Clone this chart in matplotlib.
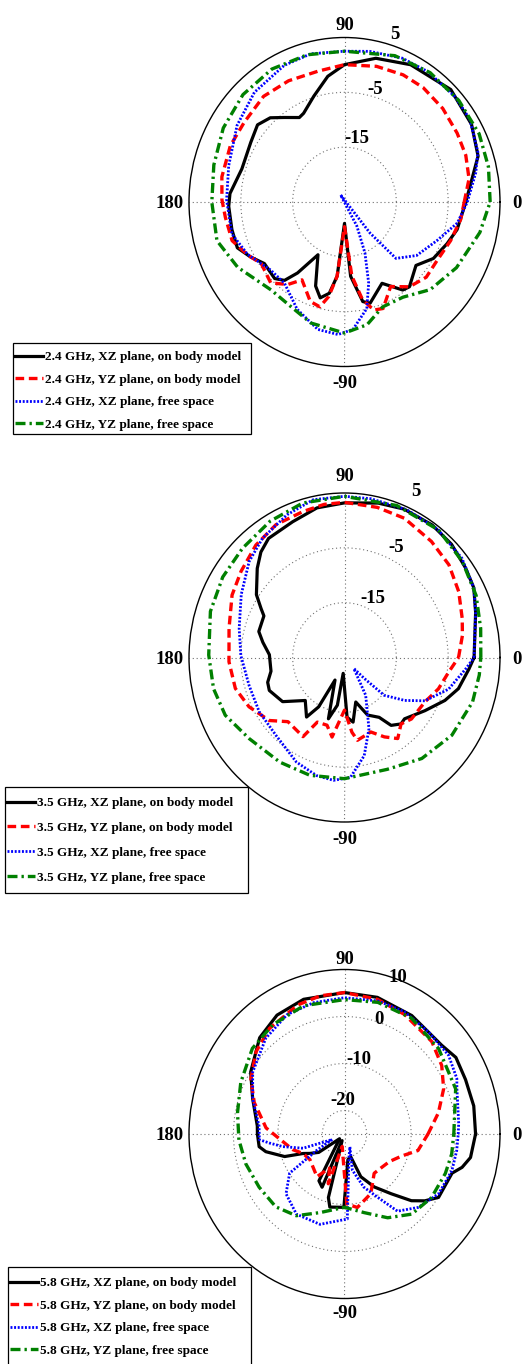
import numpy as np
import matplotlib
matplotlib.use('Agg')
import matplotlib.pyplot as plt
from matplotlib.patches import Rectangle

plt.rcParams['font.family'] = ['Liberation Serif', 'DejaVu Serif']
plt.rcParams['font.weight'] = 'bold'

# ---------------- data (angle in degrees, gain in dB) ----------------
# 2.4 GHz
a24_xz_body = [0, 18, 30, 45, 63, 77, 90, 98, 107, 116, 119.5, 127, 133, 140, 149, 163, 176, 182, 193, 202, 209, 216,
               226, 231, 235, 242, 250, 255, 260, 264, 270, 275, 281, 285, 296, 305, 309, 320, 329, 339, 347, 360]
g24_xz_body = [-1.6, 2.1, 3.3, 4.0, 3.1, 1.9, 0.05, -1.85, -4.8, -7.0, -7.3, -5.7, -4.0, -3.1, -3.9, -4.3, -2.85, -2.65,
               -2.7, -2.7, -4.3, -5.9, -5.6, -6.6, -9.2, -14.1, -8.7, -6.9, -8.1, -11.4, -21.1, -11.4, -6.5, -5.9, -8.5,
               -5.4, -5.1, -7.0, -5.0, -3.8, -2.7, -1.6]
a24_yz_body = [0, 10, 20, 30, 42, 54, 64, 76, 90, 102, 116, 129, 143, 155, 169, 179, 187, 198, 207.5, 215, 226, 234,
               240, 250, 256, 260, 264, 270, 276, 281, 286, 291, 300, 309, 319, 329, 341, 352, 360]
g24_yz_body = [-1.9, -0.6, -0.1, 0.1, 0.5, 0.8, 0.8, 0.5, 0.05, -0.6, -0.4, -0.2, -0.8, -0.7, -0.9, -1.35, -1.85, -2.2,
               -4.0, -5.4, -4.5, -6.4, -8.6, -5.7, -5.3, -7.5, -11.4, -20.5, -11.4, -6.9, -4.5, -4.2, -7.2, -5.1, -4.1,
               -4.2, -3.35, -2.35, -1.9]
a24_xz_free = [0, 12, 19.5, 32, 42, 56, 67, 80, 90, 103.5, 115, 131, 146, 163.5, 179, 195, 207, 221, 232, 245, 257.5,
               267, 274, 282.5, 287.5, 293, 298.5, 120, 311, 314, 325, 338.6, 350, 360]
g24_xz_free = [-1.3, 0.9, 2.3, 3.5, 3.7, 3.7, 3.5, 2.9, 2.5, 2.8, 2.5, 1.5, 0.0, -1.7, -2.25, -2.5, -4.0, -6.1, -6.2,
               -3.4, -1.2, -0.8, -1.7, -5.1, -9.5, -14.9, -20.0, -23.5, -17.5, -10.7, -8.0, -5.8, -2.9, -1.3]
a24_yz_free = [0, 13, 25.6, 40, 55, 70, 90, 105, 120, 135, 150, 165, 180, 196, 210, 228.5, 241.6, 253.6, 270, 281, 291,
               303, 316, 331, 348, 360]
g24_yz_free = [3.1, 3.5, 3.8, 3.8, 3.8, 3.4, 2.5, 2.8, 3.0, 2.7, 2.0, 1.1, 0.6, 0.6, -1.2, -3.6, -3.3, -2.0, -1.1, -2.2,
               -4.5, -4.3, -2.0, -0.3, 1.7, 3.1]

# 3.5 GHz
a35_xz_body = [0, 18, 27, 35, 45, 55, 67, 77, 90, 101, 112, 124, 130, 136, 146, 151, 154, 164, 170, 178, 190, 197,
               202.5, 214, 226, 236, 241, 246, 254.5, 261, 265, 272.6, 278, 285, 293, 301.5, 306, 312, 316, 328, 338,
               345.5, 355, 360]
g35_xz_body = [0.0, 1.6, 3.0, 3.5, 4.2, 4.5, 4.4, 3.9, 3.2, 2.8, 1.7, 1.2, 0.1, -1.6, -4.5, -6.6, -7.7, -7.8, -9.0,
               -10.5, -10.6, -9.5, -9.3, -10.6, -14.1, -11.9, -14.7, -20.5, -13.4, -16.2, -22.1, -14.1, -13.1, -16.6,
               -13.6, -12.2, -9.7, -8.7, -8.9, -6.7, -4.1, -2.3, -0.9, 0.0]
a35_yz_body = [0, 10, 17.4, 28.6, 40, 51.6, 65.5, 77, 90, 98, 106.7, 118.6, 129.8, 141.8, 152.3, 166.6, 182, 195, 206,
               218.4, 227, 241, 246, 254.7, 260.6, 270, 276, 279.4, 290.5, 298, 304.8, 312, 319, 332.4, 342.5, 352.6, 360]
g35_yz_body = [-3.0, -1.9, -1.2, 0.1, 1.3, 2.0, 2.9, 3.1, 3.3, 3.2, 2.8, 2.6, 1.7, 0.4, -0.5, -2.1, -2.7, -3.2, -4.5,
               -6.5, -9.0, -8.5, -12.1, -12.2, -10.3, -15.4, -11.3, -9.7, -10.5, -8.6, -7.0, -8.7, -7.9, -7.5, -6.0,
               -4.7, -3.0]
a35_xz_free = [0, 18, 27, 38.6, 52.5, 66, 80, 90, 101.8, 113, 126, 136.4, 150, 165.4, 179, 195.5, 211, 227, 244, 256,
               264.6, 273, 282, 290, 300.7, 312, 315, 318, 326, 333, 344, 355, 360]
g35_xz_free = [0.0, 1.6, 3.0, 4.0, 4.5, 4.5, 4.4, 4.4, 4.4, 3.3, 1.9, 0.4, -2.0, -4.0, -5.0, -5.9, -5.8, -5.6, -3.8,
               -2.8, -2.5, -3.1, -6.7, -11.2, -17.0, -22.3, -19.6, -14.7, -11.0, -7.6, -4.1, -1.5, 0.0]
a35_yz_free = [0, 11.4, 24, 37.6, 52, 70, 90, 106, 120, 134.7, 148, 162, 179, 192.7, 204.6, 218.8, 236.8, 252.7, 270,
               292, 309, 325.6, 341.8, 353, 360]
g35_yz_free = [1.3, 1.8, 2.8, 3.7, 4.5, 4.5, 4.4, 4.3, 3.7, 3.0, 2.7, 2.2, 1.2, 0.9, 0.3, -1.4, -2.2, -2.5, -2.9, -3.0,
               -1.3, 0.1, 1.0, 1.2, 1.3]

# 5.8 GHz
a58_xz_body = [0, 11.6, 23, 33, 40.8, 59, 75.7, 90, 107.8, 121, 133, 148, 160, 175, 180, 188, 192, 199.6, 204, 208,
               214, 222, 240, 246, 249, 255, 258, 269.5, 278, 286, 292, 300.7, 309.6, 316.7, 321.8, 327.5, 341, 345,
               350, 360]
g58_xz_body = [4.5, 4.7, 4.6, 4.9, 3.9, 4.4, 5.0, 5.1, 5.1, 4.5, 3.0, -0.1, -3.0, -5.3, -5.4, -5.6, -6.9, -10.7, -14.8,
               -16.2, -18.0, -23.5, -13.5, -12.6, -23.5, -11.0, -9.1, -9.4, -19.5, -20.0, -15.2, -11.9, -8.5, -4.3,
               -2.0, 0.1, 0.6, 2.4, 3.8, 4.5]
a58_yz_body = [0, 12, 23.3, 33.7, 45, 62, 75.5, 90, 100.5, 111, 127, 138.7, 151, 161.7, 175.8, 186.5, 196, 204, 215,
               235.7, 245, 251, 259, 272, 280.5, 295, 308.6, 320, 330, 340, 348, 360]
g58_yz_body = [-6.2, -3.4, -0.7, 1.3, 2.8, 3.8, 4.6, 5.1, 4.9, 4.4, 3.1, 1.5, -0.9, -3.6, -7.3, -11.0, -12.9, -14.8,
               -15.5, -14.0, -17.0, -13.8, -22.3, -10.1, -9.1, -11.0, -14.3, -14.0, -13.3, -11.3, -8.1, -6.2]
a58_xz_free = [0, 5, 21, 25, 35.6, 49, 62.6, 75, 90, 104, 117, 131, 147.5, 160, 175, 183.6, 186.5, 191, 198, 203, 209,
               214, 224, 237.6, 254, 272, 282, 294, 283, 291, 299, 306, 316.8, 329, 342, 352, 360]
g58_xz_free = [0.6, 0.8, 2.1, 2.9, 3.8, 3.8, 4.3, 4.3, 4.0, 3.8, 3.5, 2.0, -0.5, -3.0, -5.7, -5.8, -8.0, -10.9, -15.2,
               -22.0, -17.9, -10.1, -6.7, -4.8, -5.0, -6.9, -20.1, -22.0, -17.1, -12.9, -9.6, -4.7, -2.2, -0.3, 0.4,
               0.5, 0.6]
a58_yz_free = [0, 21, 40.6, 58.6, 75, 90, 108.6, 124.8, 138.7, 154.8, 169.4, 183, 196, 210.5, 225, 238, 251.8, 270,
               284.8, 298.6, 311.6, 325.4, 339.7, 350, 360]
g58_yz_free = [-0.4, 1.8, 2.9, 3.9, 4.0, 3.6, 3.8, 3.3, 2.6, 0.8, -0.5, -1.2, -1.9, -2.7, -3.1, -4.5, -7.4, -9.4, -7.7,
               -4.7, -2.2, -1.2, -0.8, -0.5, -0.4]

freqs = ['2.4', '3.5', '5.8']
series_labels = ['XZ plane, on body model', 'YZ plane, on body model', 'XZ plane, free space', 'YZ plane, free space']
theta_ticks = [0, 90, 180, 270]
theta_ticklabels = ['0', '90', '180', '-90']
rlims = [(-25, 5), (-25, 5), (-25, 10)]
ring_ticks = [[-15, -5, 5], [-15, -5, 5], [-20, -10, 0, 10]]

data = [
    [(a24_xz_body, g24_xz_body), (a24_yz_body, g24_yz_body), (a24_xz_free, g24_xz_free), (a24_yz_free, g24_yz_free)],
    [(a35_xz_body, g35_xz_body), (a35_yz_body, g35_yz_body), (a35_xz_free, g35_xz_free), (a35_yz_free, g35_yz_free)],
    [(a58_xz_body, g58_xz_body), (a58_yz_body, g58_yz_body), (a58_xz_free, g58_xz_free), (a58_yz_free, g58_yz_free)],
]

# ---------------- layout / style ----------------
W, H = 523, 1364
RX, RY = 155.5, 164.5
centers = [(344.5, 202.0), (344.5, 657.5), (344.5, 1134.0)]
# legend frame boxes (left, top, right, bottom) in pixels and legend content anchor / row spacing
legend_box = [(13, 343, 251, 434), (5, 787, 248, 893), (8, 1267, 251, 1372)]
legend_anchor = [(15, 351), (7, 797), (10, 1277)]
legend_spacing = [0.78, 0.95, 0.78]
# radial label placement (angle deg, radius dB) per ring tick
rlabel_pos = [
    [(90, -14.3), (77.4, -4.9), (73.3, 6.0)],
    [(73.3, -14.6), (66.3, -3.9), (66.2, 7.1)],
    [(117, -18.0), (88, -10.2), (74.2, -0.6), (73, 8.8)],
]
top_pad = [8, 12, 5]
bot_pad = [9, 9, 7]

styles = [
    dict(color='black', lw=2.3, linestyle='-'),
    dict(color='#ff0000', lw=2.4, linestyle=(0, (2.6, 1.4))),
    dict(color='#0000ff', lw=2.0, linestyle=(0, (0.7, 0.6))),
    dict(color='#008000', lw=2.4, linestyle=(0, (3.0, 1.2, 0.7, 1.2))),
]

fig = plt.figure(figsize=(W / 100, H / 100), dpi=100)
tick_fs = 13.5
leg_fs = 9.5

for i in range(3):
    cx, cy = centers[i]
    ax = fig.add_axes([(cx - RX) / W, (H - cy - RY) / H, 2 * RX / W, 2 * RY / H], projection='polar')
    ax.set_aspect('auto')
    rmin, rmax = rlims[i]
    lines = []
    for (ang, g), st in zip(data[i], styles):
        ln, = ax.plot(np.deg2rad(ang), g, solid_joinstyle='round', dash_joinstyle='round', **st)
        lines.append(ln)
    ax.set_ylim(rmin, rmax)
    ax.set_xticks(np.deg2rad(theta_ticks))
    ax.set_xticklabels([])
    ax.set_yticks([t for t in ring_ticks[i] if t < rmax])
    ax.set_yticklabels([])
    ax.tick_params(length=0)
    ax.grid(True, linestyle=(0, (1, 2.5)), color='#707070', lw=0.8)
    ax.spines['polar'].set_linewidth(1.0)
    ax.spines['polar'].set_color('black')

    # theta labels
    ax.annotate(theta_ticklabels[1], xy=(np.pi / 2, rmax), xytext=(0, top_pad[i]), textcoords='offset pixels',
                ha='center', va='baseline', fontsize=tick_fs, fontweight='bold', annotation_clip=False)
    ax.annotate(theta_ticklabels[3], xy=(3 * np.pi / 2, rmax), xytext=(0, -bot_pad[i]), textcoords='offset pixels',
                ha='center', va='top', fontsize=tick_fs, fontweight='bold', annotation_clip=False)
    ax.annotate(theta_ticklabels[0], xy=(0, rmax), xytext=(12, 0), textcoords='offset pixels',
                ha='left', va='center_baseline', fontsize=tick_fs, fontweight='bold', annotation_clip=False)
    ax.annotate(theta_ticklabels[2], xy=(np.pi, rmax), xytext=(-5, 0), textcoords='offset pixels',
                ha='right', va='center_baseline', fontsize=tick_fs, fontweight='bold', annotation_clip=False)
    # radial labels
    for t, (th, rr) in zip(ring_ticks[i], rlabel_pos[i]):
        ax.text(np.deg2rad(th), rr, str(t), ha='left', va='baseline', fontsize=tick_fs, fontweight='bold',
                clip_on=False)

    # legend frame
    bl, bt, br, bb = legend_box[i]
    fig.patches.append(Rectangle((bl / W, 1 - bb / H), (br - bl) / W, (bb - bt) / H, transform=fig.transFigure,
                                 facecolor='white', edgecolor='black', lw=0.9, zorder=4))
    labels = [f'{freqs[i]} GHz, {s}' for s in series_labels]
    lx, ly = legend_anchor[i]
    leg = fig.legend(lines, labels, loc='upper left', bbox_to_anchor=(lx / W, 1 - ly / H),
                     bbox_transform=fig.transFigure, borderaxespad=0, borderpad=0,
                     handlelength=2.1, handletextpad=0.15, labelspacing=legend_spacing[i],
                     prop=dict(size=leg_fs, weight='bold'), frameon=False)
    leg.set_zorder(5)

fig.savefig('out.png', dpi=100)
